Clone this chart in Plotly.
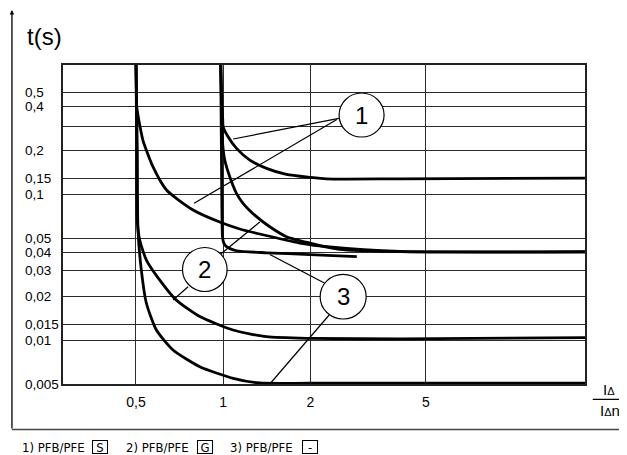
import numpy as np
import plotly.graph_objects as go

# axis grid / labels (as drawn in the picture)
x_ticks = [0.5, 1, 2, 5]
x_tick_text = ["0,5", "1", "2", "5"]
y_grid = [0.5, 0.4, 0.29, 0.2, 0.1286, 0.1, 0.05, 0.04, 0.03, 0.02, 0.0127, 0.01, 0.005]
y_tick_text = ["0,5", "0,4", "", "0,2", "0,15", "0,1", "0,05", "0,04", "0,03", "0,02", "0,015", "0,01", "0,005"]

# 1) PFB/PFE S - upper curve, settles at 0,15
s_upper_x = [0.98, 0.988, 0.996, 0.999, 1.039, 1.111, 1.235, 1.41, 1.652, 1.99, 2.271, 4.07, 18]
s_upper_y = [0.8, 0.443, 0.323, 0.29, 0.248, 0.2065, 0.1717, 0.1506, 0.137, 0.1307, 0.1275, 0.1276, 0.129]

# 1) PFB/PFE S - curve from 0,5 settling near 0,04
s_lower_x = [0.5, 0.502, 0.503, 0.509, 0.515, 0.528, 0.572, 0.637, 0.787, 0.972, 1.14, 1.336, 1.837, 2.331, 4.07, 18]
s_lower_y = [0.8, 0.443, 0.398, 0.34, 0.2988, 0.2355, 0.1545, 0.1069, 0.078, 0.0645, 0.0578, 0.0534, 0.0463, 0.0435, 0.0406, 0.0404]

# steep curve from 1 settling near 0,04
g_mid_x = [0.98, 0.988, 0.996, 1.012, 1.053, 1.111, 1.17, 1.302, 1.447, 1.652, 1.99, 2.524, 4.07, 18]
g_mid_y = [0.8, 0.323, 0.2176, 0.1717, 0.1319, 0.1015, 0.0867, 0.0702, 0.0599, 0.0512, 0.0463, 0.0419, 0.0404, 0.0402]

# vertical at 1 turning flat at 0,04
d_x = [0.98, 0.988, 0.994, 1.004, 1.026, 1.111, 1.41, 1.99, 2.889]
d_y = [0.8, 0.1069, 0.0512, 0.0463, 0.0437, 0.041, 0.0397, 0.0386, 0.0374]

# 2) PFB/PFE G - settles at 0,01
g_x = [0.5, 0.503, 0.505, 0.515, 0.543, 0.604, 0.689, 0.83, 1.081, 1.41, 1.99, 4.07, 18]
g_y = [0.8, 0.201, 0.0666, 0.0485, 0.0354, 0.0258, 0.0188, 0.0145, 0.01173, 0.01055, 0.01028, 0.0102, 0.0104]

# 3) PFB/PFE - settles at 0,005
f_x = [0.5, 0.505, 0.508, 0.5217, 0.543, 0.588, 0.671, 0.83, 1.081, 1.336, 1.99, 18]
f_y = [0.8, 0.201, 0.0568, 0.0302, 0.0179, 0.01173, 0.00855, 0.00657, 0.00547, 0.00508, 0.00506, 0.00506]

curves = [
    (s_upper_x, s_upper_y),
    (s_lower_x, s_lower_y),
    (g_mid_x, g_mid_y),
    (d_x, d_y),
    (g_x, g_y),
    (f_x, f_y),
]

FONT = "Liberation Sans, Arial, sans-serif"
NARROW = "Liberation Sans Narrow, Arial Narrow, DejaVu Sans Condensed, Roboto Condensed, Liberation Sans"

fig = go.Figure()
for cx, cy in curves:
    fig.add_trace(go.Scatter(
        x=cx, y=cy, mode="lines",
        line=dict(color="black", width=2.8, shape="spline", smoothing=0.6),
        showlegend=False, hoverinfo="skip",
    ))

shapes = []
# numbered circles (paper coords)
circles = [
    ("1", 0.5289, 0.6151, 0.7743, 0.9122),
    ("2", 0.2289, 0.3144, 0.2900, 0.4279),
    ("3", 0.4926, 0.5808, 0.2038, 0.3436),
]
# leader lines
leaders = [
    (0.5285, 0.8329, 0.3259, 0.768),
    (0.5246, 0.8292, 0.2511, 0.5665),
    (0.3023, 0.4075, 0.3770, 0.5078),
    (0.2396, 0.3050, 0.2109, 0.2633),
    (0.5016, 0.3157, 0.3962, 0.4060),
    (0.5099, 0.2163, 0.3962, 0.0),
]
for x0, y0, x1, y1 in leaders:
    shapes.append(dict(type="line", xref="paper", yref="paper", x0=x0, y0=y0, x1=x1, y1=y1,
                       line=dict(color="black", width=1.2)))
annotations = []
for lab, x0, x1, y0, y1 in circles:
    shapes.append(dict(type="circle", xref="paper", yref="paper", x0=x0, x1=x1, y0=y0, y1=y1,
                       fillcolor="white", line=dict(color="black", width=1.2)))
    annotations.append(dict(text=lab, xref="paper", yref="paper", x=(x0 + x1) / 2, y=(y0 + y1) / 2,
                            xanchor="center", yanchor="middle",
                            showarrow=False, font=dict(family=FONT, size=24, color="black")))

# bottom rule line and fraction bar
shapes.append(dict(type="line", xref="paper", yref="paper", x0=-0.0978, x1=1.1, y0=-0.1426, y1=-0.1426,
                   line=dict(color="#444", width=1.5)))
shapes.append(dict(type="line", xref="paper", yref="paper", x0=1.0148, x1=1.1, y0=-0.048, y1=-0.048,
                   line=dict(color="black", width=1.3)))

# y tick labels, left aligned
for v, t in zip(y_grid, y_tick_text):
    if t:
        annotations.append(dict(text=t, xref="paper", yref="y", x=-0.0772, y=np.log10(v),
                                xanchor="left", yanchor="middle", showarrow=False,
                                font=dict(family=FONT, size=13.5, color="black")))

# y axis arrow
annotations.append(dict(text="", xref="paper", yref="paper", x=-0.0978, y=1.1724, ax=0, ay=420,
                        showarrow=True, arrowhead=2, arrowsize=0.7, arrowwidth=1.3, arrowcolor="black",
                        standoff=0))
annotations.append(dict(text="t(s)", xref="paper", yref="paper", x=-0.0734, y=1.0909,
                        xanchor="left", yanchor="middle", showarrow=False,
                        font=dict(family=FONT, size=24, color="black")))

# x axis fraction label
annotations.append(dict(text="I<span style='font-size:11px'>Δ</span>", xref="paper", yref="paper",
                        x=1.046, y=-0.0157, showarrow=False, xanchor="center", yanchor="middle",
                        font=dict(family=FONT, size=15, color="black")))
annotations.append(dict(text="I<span style='font-size:11px'>Δ</span>n", xref="paper", yref="paper",
                        x=1.048, y=-0.0846, showarrow=False, xanchor="center", yanchor="middle",
                        font=dict(family=FONT, size=15, color="black")))

# footer legend
footer = [("1) PFB/PFE", -0.0817, "S", 0.0704),
          ("2) PFB/PFE", 0.1164, "G", 0.2722),
          ("3) PFB/PFE", 0.3163, "-", 0.4729)]
for txt, tx, box, bx in footer:
    annotations.append(dict(text=txt, xref="paper", yref="paper", x=tx, y=-0.199, xanchor="left",
                            yanchor="middle", showarrow=False,
                            font=dict(family=NARROW, size=13, color="black")))
    annotations.append(dict(text=box, xref="paper", yref="paper", x=bx, y=-0.199, xanchor="center",
                            yanchor="middle", showarrow=False, bordercolor="black", borderwidth=1,
                            borderpad=0, width=14, height=12,
                            font=dict(family=NARROW, size=13, color="black")))

# the page body adds an 8px margin, so the figure is 8px smaller than the window
fig.update_layout(
    width=619, height=447,
    margin=dict(l=55, r=42, t=57, b=71),
    plot_bgcolor="white", paper_bgcolor="white",
    shapes=shapes, annotations=annotations,
    xaxis=dict(type="log", range=[np.log10(0.28), np.log10(17.7)],
               tickvals=x_ticks, ticktext=x_tick_text,
               ticks="outside", ticklen=4, tickcolor="rgba(0,0,0,0)",
               tickfont=dict(family=FONT, size=14, color="black"),
               showgrid=True, gridcolor="#2b2b2b", gridwidth=1.3,
               showline=True, mirror=True, linecolor="#222", linewidth=1.5),
    yaxis=dict(type="log", range=[np.log10(0.005), np.log10(0.77)],
               tickvals=y_grid, showticklabels=False,
               showgrid=True, gridcolor="#2b2b2b", gridwidth=1.3,
               showline=True, mirror=True, linecolor="#222", linewidth=1.5),
)

fig.write_html("out.html")
